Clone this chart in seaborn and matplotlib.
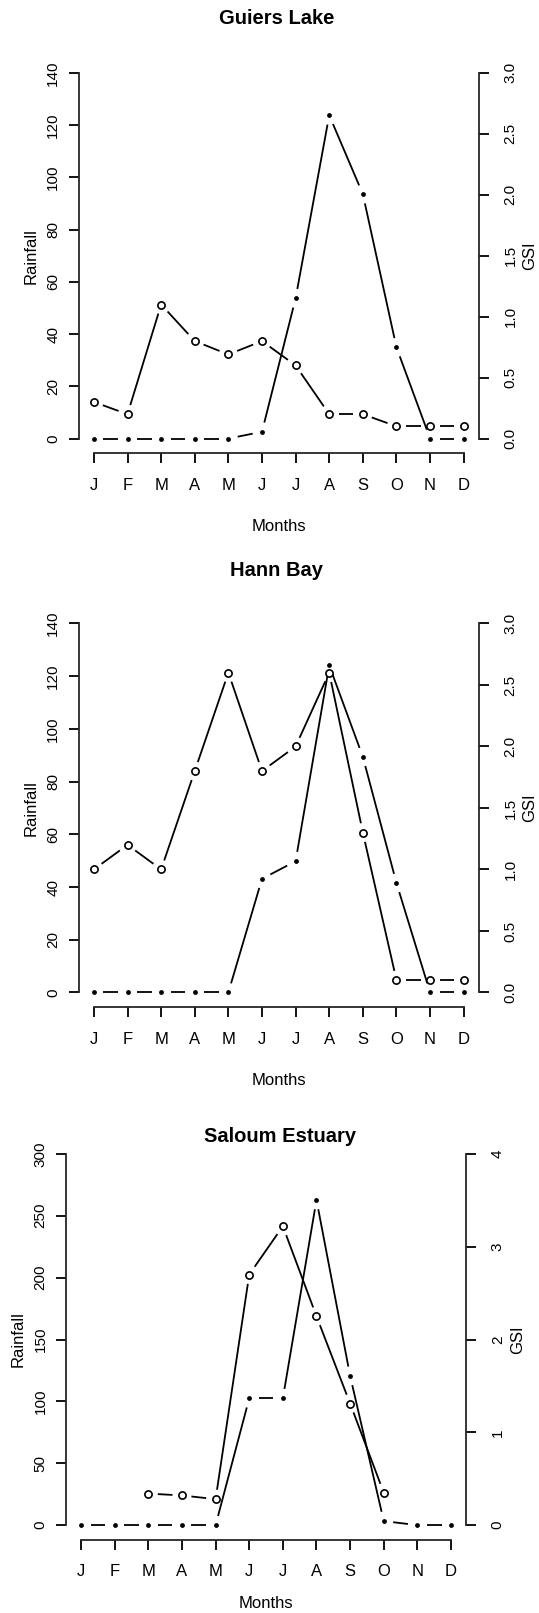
import matplotlib
matplotlib.use("Agg")
import matplotlib.pyplot as plt
import numpy as np
import seaborn as sns

months = ["J", "F", "M", "A", "M", "J", "J", "A", "S", "O", "N", "D"]
month_num = list(range(1, 13))

guiers_rain = [0, 0, 0, 0, 0, 2.6, 53.7, 123.8, 93.6, 34.9, 0, 0]
guiers_gsi = [0.30, 0.20, 1.10, 0.80, 0.69, 0.80, 0.60, 0.20, 0.20, 0.10, 0.10, 0.10]

hann_rain = [0, 0, 0, 0, 0, 43.1, 49.8, 124.1, 89.4, 41.5, 0, 0]
hann_gsi = [1.00, 1.20, 1.00, 1.80, 2.60, 1.80, 2.00, 2.60, 1.30, 0.10, 0.10, 0.10]

saloum_rain = [0, 0, 0, 0, 0, 102.5, 102.5, 262.8, 120.6, 3.3, 0, 0]
saloum_gsi = [np.nan, np.nan, 0.34, 0.32, 0.28, 2.70, 3.22, 2.25, 1.31, 0.35, np.nan, np.nan]

W, H = 539, 1613
DPI = 100

sns.set_theme(style="ticks")
plt.rcParams["font.family"] = ["Liberation Sans", "DejaVu Sans"]
plt.rcParams["axes.linewidth"] = 1.3
plt.rcParams["text.color"] = "black"

fig = plt.figure(figsize=(W / DPI, H / DPI), dpi=DPI)
fig.patch.set_facecolor("white")


def fx(px):
    return px / W


def fy(py):
    return 1 - py / H


def gapped_line(ax, x, y, gap=9.5):
    # lignes type "b" de R : segments interrompus autour des points
    trans = ax.transData
    inv = trans.inverted()
    for i in range(len(x) - 1):
        if np.isnan(y[i]) or np.isnan(y[i + 1]):
            continue
        p0 = trans.transform((x[i], y[i]))
        p1 = trans.transform((x[i + 1], y[i + 1]))
        d = p1 - p0
        L = np.hypot(*d)
        if L <= 2 * gap:
            continue
        q0 = p0 + d / L * gap
        q1 = p1 - d / L * gap
        a, b = inv.transform([q0, q1])
        ax.plot([a[0], b[0]], [a[1], b[1]], color="black", lw=1.3,
                solid_capstyle="butt")


def panel(left, right, top, bottom, title, title_xy, rain, gsi,
          rain_max, rain_step, gsi_max, gsi_step, gsi_fmt, months_dy):
    rect = [fx(left), fy(bottom), fx(right) - fx(left), fy(top) - fy(bottom)]
    ax = fig.add_axes(rect)
    ax.set_facecolor("white")
    ax.set_xlim(1 - 0.44, 12 + 0.44)
    pad_r = rain_max * 0.04
    ax.set_ylim(-pad_r, rain_max + pad_r)
    ax2 = ax.twinx()
    pad_g = gsi_max * 0.04
    ax2.set_ylim(-pad_g, gsi_max + pad_g)
    ax2.set_position(rect)

    for a in (ax, ax2):
        a.spines["top"].set_visible(False)
        a.grid(False)
    ax.spines["right"].set_visible(False)
    ax2.spines["left"].set_visible(False)
    ax2.spines["bottom"].set_visible(False)
    ax.spines["left"].set_bounds(0, rain_max)
    ax.spines["bottom"].set_bounds(1, 12)
    ax2.spines["right"].set_bounds(0, gsi_max)

    ax.set_xticks(month_num)
    ax.set_xticklabels(months)
    rticks = np.arange(0, rain_max + 0.1, rain_step)
    ax.set_yticks(rticks)
    ax.set_yticklabels([f"{int(t)}" for t in rticks])
    gticks = np.arange(0, gsi_max + 0.01, gsi_step)
    ax2.set_yticks(gticks)
    ax2.set_yticklabels([gsi_fmt.format(t) for t in gticks])

    ax.tick_params(axis="x", length=7.5, width=1.3, pad=10, labelsize=12,
                   colors="black")
    ax.tick_params(axis="y", length=7.5, width=1.3, pad=6, labelsize=11,
                   labelrotation=90, colors="black")
    ax2.tick_params(axis="y", length=7.5, width=1.3, pad=10.5, labelsize=11,
                    labelrotation=90, colors="black")
    for lab in ax.get_yticklabels() + ax2.get_yticklabels():
        lab.set_va("center")

    x = np.array(month_num, dtype=float)
    gapped_line(ax, x, np.array(rain, dtype=float))
    gapped_line(ax2, x, np.array(gsi, dtype=float))
    sns.scatterplot(x=x, y=rain, ax=ax, color="black", s=12, linewidth=0,
                    zorder=5, legend=False)
    sns.scatterplot(x=x, y=gsi, ax=ax2, facecolor="white", edgecolor="black",
                    s=27, linewidth=1.2, zorder=5, legend=False)
    ax.set_xlabel("")
    ax.set_ylabel("")
    ax2.set_ylabel("")

    cy = (top + bottom) / 2
    cx = (left + right) / 2
    fig.text(fx(title_xy[0]), fy(title_xy[1]), title, ha="center", va="center",
             fontsize=14.5, fontweight="bold")
    fig.text(fx(left - 48), fy(cy), "Rainfall", rotation=90, ha="center",
             va="center", fontsize=12)
    fig.text(fx(right + 51.5), fy(cy), "GSI", rotation=90, ha="center",
             va="center", fontsize=12)
    fig.text(fx(cx), fy(bottom + months_dy), "Months", ha="center",
             va="center", fontsize=12)


panel(79.1, 478.5, 58.3, 453.2, "Guiers Lake", (276.5, 19), guiers_rain,
      guiers_gsi, 140, 20, 3.0, 0.5, "{:.1f}", 73)
panel(79.1, 478.5, 608.7, 1007.2, "Hann Bay", (277, 570.3), hann_rain,
      hann_gsi, 140, 20, 3.0, 0.5, "{:.1f}", 73)
panel(66.3, 465.8, 1139.0, 1540.0, "Saloum Estuary", (280.5, 1136.7),
      saloum_rain, saloum_gsi, 300, 50, 4, 1, "{:.0f}", 63)

fig.savefig("out.png", dpi=DPI, facecolor="white")
